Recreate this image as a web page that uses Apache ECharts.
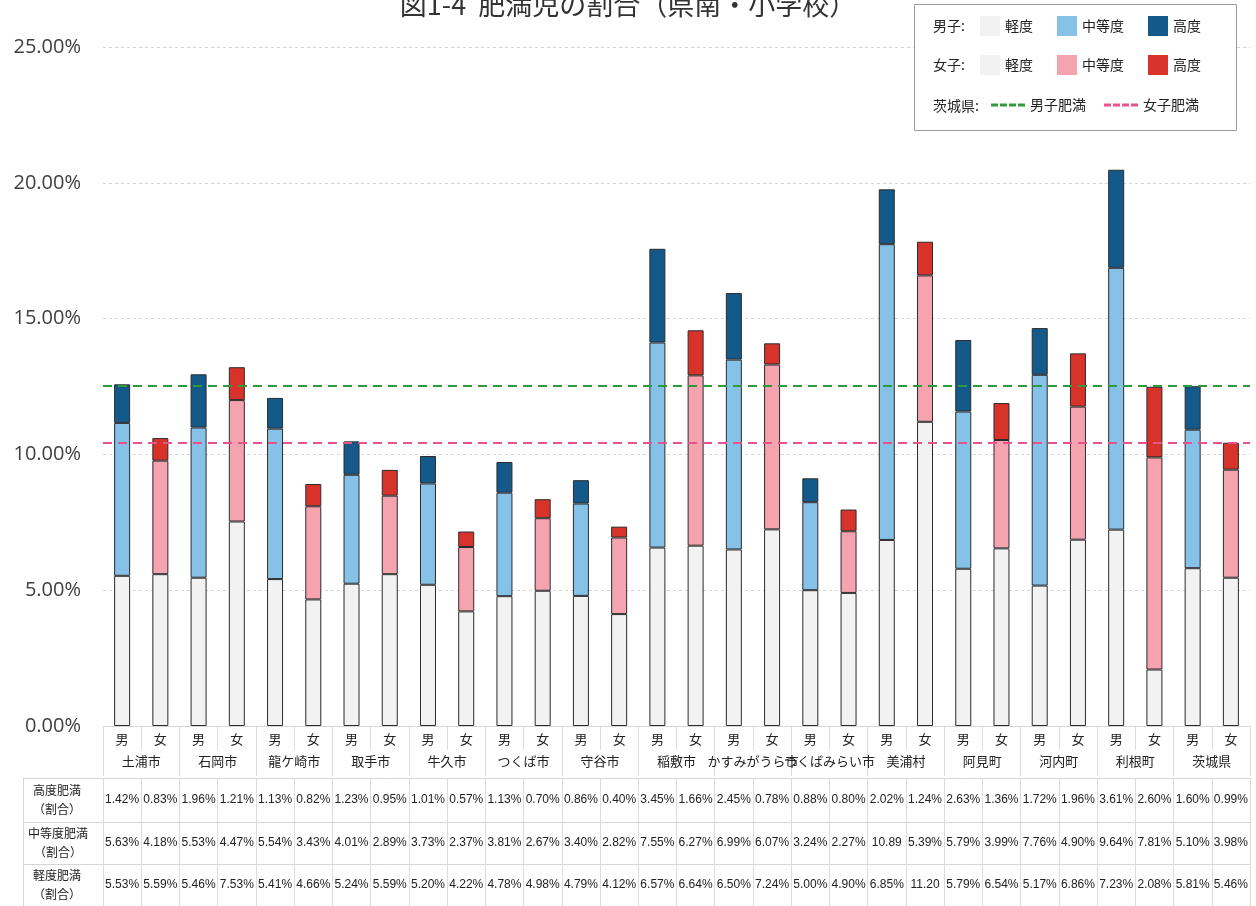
<!DOCTYPE html>
<html><head><meta charset="utf-8">
<script src="https://cdn.jsdelivr.net/npm/echarts@6/dist/echarts.min.js"></script>
<style>html,body{margin:0;padding:0;background:#fff}#c{width:1256px;height:906px}</style>
</head><body><div id="c"></div>
<script>
const cities = ['土浦市','石岡市','龍ケ崎市','取手市','牛久市','つくば市','守谷市','稲敷市','かすみがうら市','つくばみらい市','美浦村','阿見町','河内町','利根町','茨城県'];
const sexLabels = ['男','女'];
const maleHigh   = [1.42,1.96,1.13,1.23,1.01,1.13,0.86,3.45,2.45,0.88,2.02,2.63,1.72,3.61,1.60];
const femaleHigh = [0.83,1.21,0.82,0.95,0.57,0.70,0.40,1.66,0.78,0.80,1.24,1.36,1.96,2.60,0.99];
const maleMid    = [5.63,5.53,5.54,4.01,3.73,3.81,3.40,7.55,6.99,3.24,10.89,5.79,7.76,9.64,5.10];
const femaleMid  = [4.18,4.47,3.43,2.89,2.37,2.67,2.82,6.27,6.07,2.27,5.39,3.99,4.90,7.81,3.98];
const maleMild   = [5.53,5.46,5.41,5.24,5.20,4.78,4.79,6.57,6.50,5.00,6.85,5.79,5.17,7.23,5.81];
const femaleMild = [5.59,7.53,4.66,5.59,4.22,4.98,4.12,6.64,7.24,4.90,11.20,6.54,6.86,2.08,5.46];
const prefMaleLine = 12.51;
const prefFemaleLine = 10.43;
const yTicks = [0,5,10,15,20,25];
const rowHeaders = ['高度肥満\n（割合）','中等度肥満\n（割合）','軽度肥満\n（割合）'];
const titleText = '図1-4  肥満児の割合（県南・小学校）';

const JP = '"Noto Sans CJK JP", "Noto Sans", sans-serif';
const NUM = '"Liberation Sans", Arial, sans-serif';

const cats = []; cities.forEach(() => { cats.push(sexLabels[0], sexLabels[1]); });
function inter(m, f) { const r = []; m.forEach((v, i) => { r.push(v, f[i]); }); return r; }
function onlyM(m) { const r = []; m.forEach(v => r.push(v, '-')); return r; }
function onlyF(f) { const r = []; f.forEach(v => r.push('-', v)); return r; }
function fmt(v) { return v >= 10 ? v.toFixed(2) : v.toFixed(2) + '%'; }

const highRow = inter(maleHigh, femaleHigh).map(fmt);
const midRow = inter(maleMid, femaleMid).map(fmt);
const mildRow = inter(maleMild, femaleMild).map(fmt);

const bw = 16;
function bar(name, data, stack, color) {
  return { name, type: 'bar', stack, data, barWidth: bw, barGap: '-100%', xAxisIndex: 0, yAxisIndex: 0,
    itemStyle: { color, borderColor: '#2b2b2b', borderWidth: 1 } };
}
const dashIcon = 'path://M0,0h7v3h-7z M9,0h7v3h-7z M18,0h7v3h-7z M27,0h7v3h-7z';

function tableAxis(data, offset, tickLen, margin, fontSize, showLine, family) {
  return { type: 'category', gridIndex: 0, position: 'bottom', data, offset,
    axisLine: { show: showLine, lineStyle: { color: '#d6d6d6' } },
    axisTick: { show: true, length: tickLen, interval: 0, lineStyle: { color: '#dcdcdc' } },
    axisLabel: { interval: 0, margin, fontSize, color: '#222', fontFamily: family },
    splitLine: { show: false } };
}

const chart = echarts.init(document.getElementById('c'));
const opt = {
  animation: false,
  backgroundColor: '#fff',
  grid: { left: 103, right: 6, top: 47, bottom: 180, containLabel: false },
  xAxis: [
    tableAxis(cats, 0, 24, 7, 13, true, JP),
    tableAxis(cities, 24, 26, 5, 13, false, JP),
    tableAxis(highRow, 52, 44, 16, 12, true, NUM),
    tableAxis(midRow, 96, 42, 15, 12, true, NUM),
    tableAxis(mildRow, 138, 42, 15, 12, true, NUM)
  ],
  yAxis: { type: 'value', min: yTicks[0], max: yTicks[yTicks.length - 1], interval: 5,
    axisLine: { show: false }, axisTick: { show: false },
    axisLabel: { margin: 22, fontSize: 20, color: '#404040', fontFamily: '"Open Sans", sans-serif',
      formatter: v => v.toFixed(2) + '%' },
    splitLine: { lineStyle: { color: '#d4d4d4', type: [3, 3] } } },
  legend: [
    { data: ['男子軽度','男子中等度','男子高度'], left: 975, top: 11, itemWidth: 20, itemHeight: 20, itemGap: 24,
      icon: 'rect', itemStyle: { borderWidth: 0 }, formatter: n => n.replace('男子', ''),
      textStyle: { fontSize: 14, color: '#222', fontFamily: JP } },
    { data: ['女子軽度','女子中等度','女子高度'], left: 975, top: 50, itemWidth: 20, itemHeight: 20, itemGap: 24,
      icon: 'rect', itemStyle: { borderWidth: 0 }, formatter: n => n.replace('女子', ''),
      textStyle: { fontSize: 14, color: '#222', fontFamily: JP } },
    { data: [{ name: '男子肥満', icon: dashIcon }, { name: '女子肥満', icon: dashIcon }], left: 986, top: 93,
      itemWidth: 34, itemHeight: 3, itemGap: 18, itemStyle: { borderWidth: 0 },
      textStyle: { fontSize: 14, color: '#222', fontFamily: JP } }
  ],
  graphic: [
    { type: 'text', left: 'center', top: -9, z: 10, style: { text: titleText, fontSize: 27, fill: '#333', fontFamily: JP } },
    { type: 'rect', z: 3, shape: { x: 914.5, y: 4.5, width: 322, height: 126 }, style: { fill: '#fff', stroke: '#9a9a9a', lineWidth: 1 } },
    { type: 'text', z: 5, x: 933, y: 26, style: { text: '男子:', fontSize: 14, fill: '#222', fontFamily: JP, verticalAlign: 'middle' } },
    { type: 'text', z: 5, x: 933, y: 65, style: { text: '女子:', fontSize: 14, fill: '#222', fontFamily: JP, verticalAlign: 'middle' } },
    { type: 'text', z: 5, x: 933, y: 106, style: { text: '茨城県:', fontSize: 14, fill: '#222', fontFamily: JP, verticalAlign: 'middle' } },
    { type: 'text', z: 5, x: 57, y: 800, style: { text: rowHeaders[0], fontSize: 12, lineHeight: 19, fill: '#222', fontFamily: JP, align: 'center', verticalAlign: 'middle' } },
    { type: 'text', z: 5, x: 58, y: 843, style: { text: rowHeaders[1], fontSize: 12, lineHeight: 19, fill: '#222', fontFamily: JP, align: 'center', verticalAlign: 'middle' } },
    { type: 'text', z: 5, x: 57, y: 885, style: { text: rowHeaders[2], fontSize: 12, lineHeight: 19, fill: '#222', fontFamily: JP, align: 'center', verticalAlign: 'middle' } },
    { type: 'line', z: 1, shape: { x1: 23, y1: 778.5, x2: 103, y2: 778.5 }, style: { stroke: '#d6d6d6' } },
    { type: 'line', z: 1, shape: { x1: 23, y1: 822.5, x2: 103, y2: 822.5 }, style: { stroke: '#d6d6d6' } },
    { type: 'line', z: 1, shape: { x1: 23, y1: 864.5, x2: 103, y2: 864.5 }, style: { stroke: '#d6d6d6' } },
    { type: 'line', z: 1, shape: { x1: 23.5, y1: 778, x2: 23.5, y2: 906 }, style: { stroke: '#d6d6d6' } }
  ],
  series: [
    bar('男子軽度', onlyM(maleMild), 'm', '#f2f2f2'),
    bar('男子中等度', onlyM(maleMid), 'm', '#86c1e8'),
    bar('男子高度', onlyM(maleHigh), 'm', '#135a8a'),
    bar('女子軽度', onlyF(femaleMild), 'f', '#f2f2f2'),
    bar('女子中等度', onlyF(femaleMid), 'f', '#f5a3ae'),
    bar('女子高度', onlyF(femaleHigh), 'f', '#d8332b'),
    { name: '男子肥満', type: 'line', data: [], xAxisIndex: 0, yAxisIndex: 0, symbol: 'none',
      itemStyle: { color: '#2e9a3c' }, lineStyle: { color: '#2e9a3c', width: 2, type: [9, 6] },
      markLine: { silent: true, symbol: 'none', label: { show: false },
        lineStyle: { color: '#2e9a3c', width: 2, type: [9, 6] }, data: [{ yAxis: prefMaleLine }] } },
    { name: '女子肥満', type: 'line', data: [], xAxisIndex: 0, yAxisIndex: 0, symbol: 'none',
      itemStyle: { color: '#e8538c' }, lineStyle: { color: '#e8538c', width: 2, type: [9, 6] },
      markLine: { silent: true, symbol: 'none', label: { show: false },
        lineStyle: { color: '#e8538c', width: 2, type: [9, 6] }, data: [{ yAxis: prefFemaleLine }] } }
  ]
};
chart.setOption(opt);
</script>
</body></html>
